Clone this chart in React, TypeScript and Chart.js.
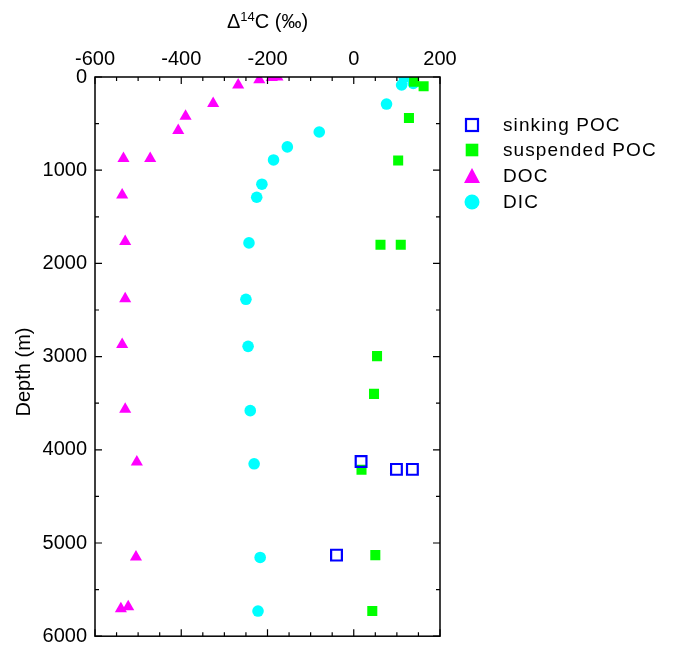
import React, { useEffect, useRef } from 'react';
import { Chart, registerables } from 'chart.js';

Chart.register(...registerables);

const FONT = '"Liberation Sans", Arial, Helvetica, sans-serif';

const seriesNames = ['sinking POC', 'suspended POC', 'DOC', 'DIC'];

const sinkingPocD14C = [17, 99, 136, -40];
const sinkingPocDepth = [4125, 4210, 4210, 5130];

const suspPocD14C = [140, 162, 128, 103, 62, 109, 54, 47, 18, 50, 43];
const suspPocDepth = [50, 100, 440, 895, 1800, 1800, 2995, 3400, 4215, 5130, 5730];

const docD14C = [-177, -190, -219, -268, -326, -390, -407, -534, -472, -537, -530, -530, -537, -530, -503, -505, -540, -523];
const docDepth = [0, 5, 30, 85, 285, 420, 575, 875, 875, 1265, 1765, 2380, 2870, 3565, 4130, 5150, 5705, 5685];

const dicD14C = [117, 111, 138, 76, -80, -154, -186, -213, -225, -243, -250, -245, -240, -231, -217, -222];
const dicDepth = [5, 86, 68, 290, 590, 750, 890, 1150, 1290, 1780, 2385, 2890, 3580, 4150, 5155, 5730];

const xMin = -600;
const xMax = 200;
const xMajor = 200;
const xMinor = 50;
const yMin = 0;
const yMax = 6000;
const yMajor = 1000;
const yMinor = 500;

const pts = (xs: number[], ys: number[]) => xs.map((x, i) => ({ x, y: ys[i] }));

const framePlugin = {
  id: 'frameTicks',
  afterDatasetsDraw(chart: any) {
    const { ctx, chartArea: a, scales } = chart;
    ctx.save();
    ctx.strokeStyle = '#000';
    ctx.lineWidth = 1.2;
    ctx.beginPath();
    for (let v = xMin; v <= xMax; v += xMinor) {
      const x = scales.x.getPixelForValue(v);
      const len = v % xMajor === 0 ? 7 : 4;
      ctx.moveTo(x, a.top);
      ctx.lineTo(x, a.top + len);
      ctx.moveTo(x, a.bottom);
      ctx.lineTo(x, a.bottom - len);
    }
    for (let d = yMin; d <= yMax; d += yMinor) {
      const y = scales.y.getPixelForValue(d);
      const len = d % yMajor === 0 ? 7 : 4;
      ctx.moveTo(a.left, y);
      ctx.lineTo(a.left + len, y);
      ctx.moveTo(a.right, y);
      ctx.lineTo(a.right - len, y);
    }
    ctx.stroke();
    ctx.lineWidth = 1.5;
    ctx.strokeRect(a.left, a.top, a.right - a.left, a.bottom - a.top);

    // x title with superscript
    ctx.fillStyle = '#000';
    ctx.textBaseline = 'alphabetic';
    const big = `20px ${FONT}`;
    const small = `13px ${FONT}`;
    ctx.font = big;
    const w1 = ctx.measureText('\u0394').width;
    const w3 = ctx.measureText('C (\u2030)').width;
    ctx.font = small;
    const w2 = ctx.measureText('14').width;
    const total = w1 + w2 + w3;
    let cx = (a.left + a.right) / 2 - total / 2;
    const base = 28;
    ctx.font = big;
    ctx.fillText('\u0394', cx, base);
    cx += w1;
    ctx.font = small;
    ctx.fillText('14', cx, base - 7);
    cx += w2;
    ctx.font = big;
    ctx.fillText('C (\u2030)', cx, base);

    // y title
    ctx.save();
    ctx.translate(24, 372);
    ctx.rotate(-Math.PI / 2);
    ctx.textAlign = 'center';
    ctx.textBaseline = 'middle';
    ctx.font = big;
    ctx.fillText('Depth (m)', 0, 0);
    ctx.restore();

    // legend
    const mx = 472;
    const rowsY = [125, 150, 176, 202];
    const tx = 503;
    chart.data.datasets.forEach((ds: any, i: number) => {
      const y = rowsY[i];
      ctx.save();
      if (ds.pointStyle === 'rect' && ds.legendOpen) {
        ctx.strokeStyle = ds.borderColor;
        ctx.lineWidth = 2.2;
        ctx.strokeRect(mx - 6, y - 6, 12, 12);
      } else if (ds.pointStyle === 'rect') {
        ctx.fillStyle = ds.backgroundColor;
        ctx.fillRect(mx - 6.3, y - 6.3, 12.6, 12.6);
      } else if (ds.pointStyle === 'triangle') {
        ctx.fillStyle = ds.backgroundColor;
        ctx.beginPath();
        ctx.moveTo(mx, y - 8);
        ctx.lineTo(mx + 8, y + 7);
        ctx.lineTo(mx - 8, y + 7);
        ctx.closePath();
        ctx.fill();
      } else {
        ctx.fillStyle = ds.backgroundColor;
        ctx.beginPath();
        ctx.arc(mx, y, 7.5, 0, Math.PI * 2);
        ctx.fill();
      }
      ctx.restore();
      ctx.save();
      ctx.fillStyle = '#000';
      ctx.font = `19px ${FONT}`;
      try { (ctx as any).letterSpacing = '1.1px'; } catch (e) {}
      ctx.textBaseline = 'middle';
      ctx.fillText(ds.label, tx, y + 1);
      ctx.restore();
    });
    ctx.restore();
  },
};

export default function App() {
  const ref = useRef<HTMLCanvasElement | null>(null);
  useEffect(() => {
    if (!ref.current) return;
    const chart = new Chart(ref.current, {
      type: 'scatter',
      data: {
        datasets: [
          {
            label: seriesNames[0],
            data: pts(sinkingPocD14C, sinkingPocDepth),
            pointStyle: 'rect',
            pointRadius: 7.6,
            borderColor: '#0000ff',
            backgroundColor: 'rgba(255,255,255,0)',
            borderWidth: 2.2,
            legendOpen: true,
            clip: 0,
          } as any,
          {
            label: seriesNames[1],
            data: pts(suspPocD14C, suspPocDepth),
            pointStyle: 'rect',
            pointRadius: 7.1,
            borderWidth: 0,
            borderColor: '#00ff00',
            backgroundColor: '#00ff00',
            clip: 0,
          },
          {
            label: seriesNames[2],
            data: pts(docD14C, docDepth),
            pointStyle: 'triangle',
            pointRadius: 7,
            borderWidth: 0,
            borderColor: '#ff00ff',
            backgroundColor: '#ff00ff',
            clip: 0,
          },
          {
            label: seriesNames[3],
            data: pts(dicD14C, dicDepth),
            pointStyle: 'circle',
            pointRadius: 5.8,
            borderWidth: 0,
            borderColor: '#00ffff',
            backgroundColor: '#00ffff',
            clip: 0,
          },
        ],
      },
      options: {
        animation: false,
        responsive: false,
        devicePixelRatio: 1,
        layout: { padding: { left: 0, top: 0, right: 234, bottom: 8 } },
        plugins: {
          legend: { display: false },
          tooltip: { enabled: false },
        },
        scales: {
          x: {
            type: 'linear',
            position: 'top',
            min: xMin,
            max: xMax,
            border: { display: false },
            grid: { display: false, drawTicks: false },
            ticks: {
              stepSize: xMajor,
              color: '#000',
              padding: 6,
              font: { family: FONT, size: 20 },
              callback: (v: any) => String(v),
            },
            afterFit: (s: any) => {
              s.height = 77;
              s.paddingLeft = 0;
              s.paddingRight = 0;
            },
          },
          y: {
            type: 'linear',
            reverse: true,
            min: yMin,
            max: yMax,
            border: { display: false },
            grid: { display: false, drawTicks: false },
            ticks: {
              stepSize: yMajor,
              color: '#000',
              padding: 8,
              font: { family: FONT, size: 20 },
              callback: (v: any) => String(v),
            },
            afterFit: (s: any) => {
              s.width = 95;
              s.paddingTop = 0;
              s.paddingBottom = 0;
            },
          },
        },
      },
      plugins: [framePlugin],
    });
    return () => chart.destroy();
  }, []);
  return (
    <div style={{ position: 'fixed', left: 0, top: 0, width: 674, height: 646, background: '#fff' }}>
      <canvas ref={ref} width={674} height={646} style={{ width: 674, height: 646, display: 'block' }} />
    </div>
  );
}
